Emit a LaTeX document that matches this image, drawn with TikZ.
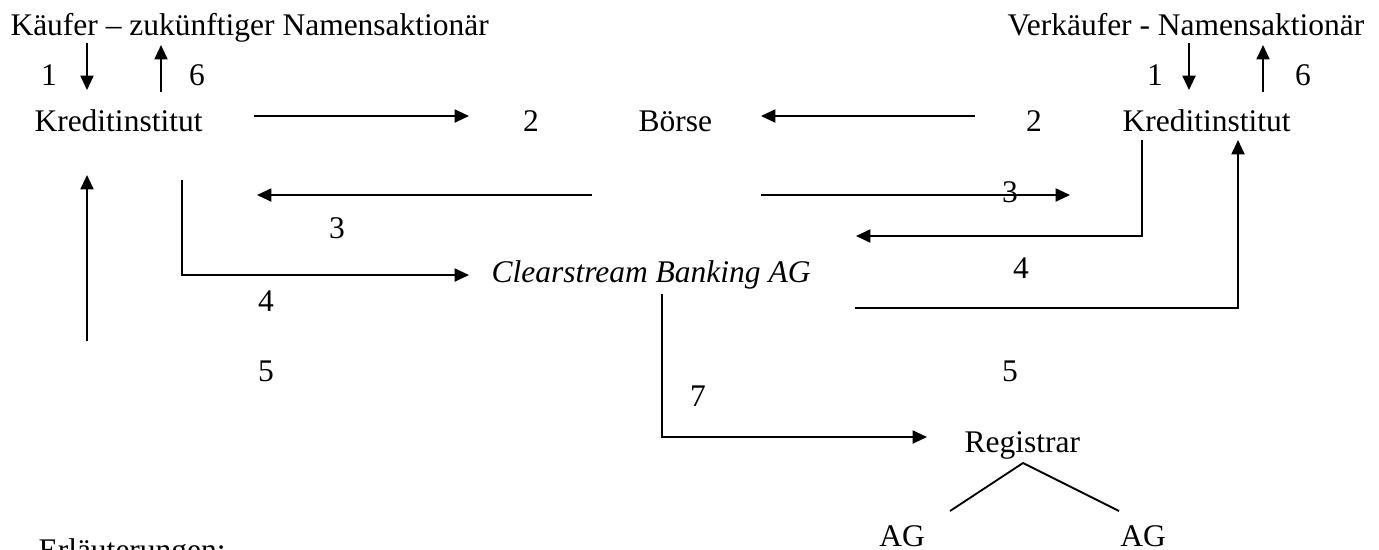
\documentclass[tikz,border=0pt]{standalone}
\usepackage{fontspec}
\setmainfont{Liberation Serif}
\usepackage{tikz}
\usetikzlibrary{arrows.meta}
\tikzset{
    x=0.381pt,
    y=-0.381pt,
    txt/.style = {
        shape=rectangle,
        anchor=base west,
        inner sep=0pt,
        font=\fontsize{12}{14}\selectfont
    },
    num/.style = {
        shape=rectangle,
        anchor=base,
        inner sep=0pt,
        font=\fontsize{12}{14}\selectfont
    },
    flow/.style = {
        draw,
        line width=0.7pt
    },
    >={Triangle[length=5.5pt,width=5pt]},
}

\begin{document}
\begin{tikzpicture}
            \useasboundingbox (0,0) rectangle (1379,549);

            % parties
            \node[txt] (kaeufer) at (10,35) {Käufer – zukünftiger Namensaktionär};
            \node[txt] (verkaeufer) at (1007,35) {Verkäufer - Namensaktionär};
            \node[txt] (kil) at (34,131) {Kreditinstitut};
            \node[txt] (boerse) at (638,131) {Börse};
            \node[txt] (kir) at (1122,131) {Kreditinstitut};
            \node[txt, font=\fontsize{12}{14}\selectfont\itshape] (cbag) at (491,282) {Clearstream Banking AG};
            \node[txt] (reg) at (964,452) {Registrar};
            \node[num] (agl) at (902,546) {AG};
            \node[num] (agr) at (1143,546) {AG};
            \node[txt] (erl) at (38,560) {Erläuterungen:};

            % steps
            \node[num] (n1l) at (49,85) {1};
            \node[num] (n6l) at (197,85) {6};
            \node[num] (n1r) at (1155,85) {1};
            \node[num] (n6r) at (1303,85) {6};
            \node[num] (n2l) at (531,131) {2};
            \node[num] (n2r) at (1034,131) {2};
            \node[num] (n3l) at (337,238) {3};
            \node[num] (n3r) at (1010,202) {3};
            \node[num] (n4l) at (266,311) {4};
            \node[num] (n4r) at (1021,278) {4};
            \node[num] (n5l) at (266,381) {5};
            \node[num] (n5r) at (1010,381) {5};
            \node[num] (n7) at (698,406) {7};

            % arrow ends
            \coordinate (a1ls) at (87,43);
            \coordinate (a1le) at (87,90);
            \coordinate (a6ls) at (161,92);
            \coordinate (a6le) at (161,45);
            \coordinate (a1rs) at (1189,43);
            \coordinate (a1re) at (1189,90);
            \coordinate (a6rs) at (1263,92);
            \coordinate (a6re) at (1263,45);
            \coordinate (a2ls) at (254,116);
            \coordinate (a2le) at (469,116);
            \coordinate (a2rs) at (975,116);
            \coordinate (a2re) at (761,116);
            \coordinate (a3ls) at (592,195);
            \coordinate (a3le) at (257,195);
            \coordinate (a3rs) at (761,195);
            \coordinate (a3re) at (1070,195);
            \coordinate (a4ls) at (182,180);
            \coordinate (a4le) at (469,275);
            \coordinate (a4rs) at (1142,140);
            \coordinate (a4re) at (856,236);
            \coordinate (a5ls) at (87,341);
            \coordinate (a5le) at (87,175);
            \coordinate (a5rs) at (855,308);
            \coordinate (a5re) at (1238,140);
            \coordinate (a7s) at (662,294);
            \coordinate (a7e) at (927,437);
            \coordinate (rtop) at (1023,463);
            \coordinate (rl) at (950,511);
            \coordinate (rr) at (1119,511);

            \path[flow, ->] (a1ls) -- (a1le);
            \path[flow, ->] (a6ls) -- (a6le);
            \path[flow, ->] (a1rs) -- (a1re);
            \path[flow, ->] (a6rs) -- (a6re);
            \path[flow, ->] (a2ls) -- (a2le);
            \path[flow, ->] (a2rs) -- (a2re);
            \path[flow, ->] (a3ls) -- (a3le);
            \path[flow, ->] (a3rs) -- (a3re);
            \path[flow, ->] (a4ls) |- (a4le);
            \path[flow, ->] (a4rs) |- (a4re);
            \path[flow, ->] (a5ls) -- (a5le);
            \path[flow, ->] (a5rs) -| (a5re);
            \path[flow, ->] (a7s) |- (a7e);
            \path[flow] (rl) -- (rtop) -- (rr);
        \end{tikzpicture}
\end{document}
